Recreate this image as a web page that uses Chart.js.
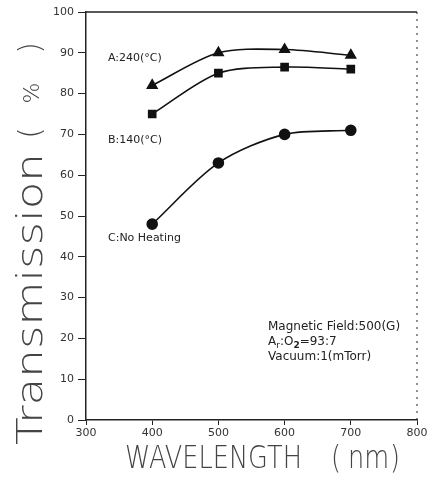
<!DOCTYPE html>
<html>
<head>
<meta charset="utf-8">
<script src="https://cdn.jsdelivr.net/npm/chart.js@4.4.1/dist/chart.umd.min.js"></script>
<style>
  html, body { margin: 0; padding: 0; background: #fff; }
  canvas { display: block; }
</style>
</head>
<body>
<canvas id="transChart" width="439" height="479"></canvas>
<script>
// wavelength (nm)
var wavelengths = [400, 500, 600, 700];
// transmission (%)
var heatA = [82, 90, 90.8, 89.4];   // A: 240 C
var heatB = [75, 85, 86.5, 86];     // B: 140 C
var noHeat = [48, 63, 70, 71];      // C: no heating

var xTicks = [300, 400, 500, 600, 700, 800];
var yTicks = [0, 10, 20, 30, 40, 50, 60, 70, 80, 90, 100];

function pts(vals) {
    return wavelengths.map(function (w, i) { return {x: w, y: vals[i]}; });
}

function series(label, vals, shape) {
    return {
        label: label,
        data: pts(vals),
        borderColor: "#111",
        backgroundColor: "#111",
        borderWidth: 1.6,
        pointStyle: shape,
        pointRadius: shape == 'triangle' ? 5.5 : 5,
        pointHoverRadius: 5,
        tension: 0.3,
        showLine: true,
        fill: false
    };
}

// text, frame and titles drawn on top of the chart
var extras = {
    id: 'extras',
    afterDraw: function (chart) {
        var c = chart.ctx, a = chart.chartArea;
        c.save();

        // top solid line, right dotted line
        c.strokeStyle = "#222";
        c.lineWidth = 1.5;
        c.beginPath();
        c.moveTo(a.left, a.top);
        c.lineTo(a.right, a.top);
        c.stroke();
        c.setLineDash([2, 5]);
        c.lineWidth = 1;
        c.beginPath();
        c.moveTo(a.right, a.top);
        c.lineTo(a.right, a.bottom);
        c.stroke();
        c.setLineDash([]);

        c.fillStyle = "#222";
        c.textBaseline = "middle";
        c.textAlign = "left";
        c.font = "11px 'DejaVu Sans'";
        c.fillText("A:240(°C)", 108, 58);
        c.fillText("B:140(°C)", 108, 140);
        c.fillText("C:No Heating", 108, 238);

        c.font = "12px 'DejaVu Sans'";
        c.fillText("Magnetic Field:500(G)", 268, 327);
        // Ar:O2=93:7 with subscripts
        var x = 268, y = 342;
        c.fillText("A", x, y); x += c.measureText("A").width;
        c.font = "9px 'DejaVu Sans'";
        c.fillText("r", x, y + 4); x += c.measureText("r").width;
        c.font = "12px 'DejaVu Sans'";
        c.fillText(":O", x, y); x += c.measureText(":O").width;
        c.font = "bold 9px 'DejaVu Sans'";
        c.fillText("2", x, y + 4); x += c.measureText("2").width;
        c.font = "12px 'DejaVu Sans'";
        c.fillText("=93:7", x, y);
        c.fillText("Vacuum:1(mTorr)", 268, 357);

        // x title, thin and tall
        c.fillStyle = "#444";
        c.textBaseline = "alphabetic";
        c.font = "200 32px 'DejaVu Sans'";
        c.save();
        c.translate(125, 468);
        c.scale(0.8, 1);
        c.fillText("WAVELENGTH", 0, 0);
        c.restore();
        c.save();
        c.translate(331, 468);
        c.scale(0.8, 1);
        c.fillText("(", 0, 0);
        c.restore();
        c.save();
        c.translate(348, 468);
        c.scale(0.8, 1);
        c.fillText("nm", 0, 0);
        c.restore();
        c.save();
        c.translate(390, 468);
        c.scale(0.8, 1);
        c.fillText(")", 0, 0);
        c.restore();

        // y title, rotated
        c.save();
        c.translate(42, 445);
        c.rotate(-Math.PI / 2);
        c.font = "200 36px 'DejaVu Sans'";
        var w = c.measureText("Transmission").width;
        c.save();
        c.scale(292 / w, 1);
        c.fillText("Transmission", 0, 0);
        c.restore();
        c.textAlign = "center";
        c.font = "200 30px 'DejaVu Sans'";
        c.fillText("(", 445 - 133, -2);
        c.fillText(")", 445 - 48, -2);
        c.font = "200 22px 'DejaVu Sans'";
        c.fillText("%", 445 - 93, -3);
        c.restore();

        c.restore();
    }
};

var ctx = document.getElementById("transChart").getContext("2d");
new Chart(ctx, {
    type: 'scatter',
    data: {
        datasets: [
            series("A:240(°C)", heatA, 'triangle'),
            series("B:140(°C)", heatB, 'rect'),
            series("C:No Heating", noHeat, 'circle')
        ]
    },
    options: {
        responsive: false,
        animation: false,
        layout: {padding: {top: 12, right: 22, left: 0, bottom: 0}},
        plugins: {legend: {display: false}, tooltip: {enabled: false}},
        scales: {
            x: {
                type: 'linear',
                min: 300,
                max: 800,
                afterBuildTicks: function (s) { s.ticks = xTicks.map(function (v) { return {value: v}; }); },
                afterFit: function (s) { s.height = 59; },
                grid: {display: true, drawOnChartArea: false, tickLength: 5, color: "#222"},
                border: {display: true, color: "#222", width: 1.5},
                ticks: {color: "#333", font: {family: "DejaVu Sans", size: 11}, padding: 2}
            },
            y: {
                min: 0,
                max: 100,
                afterBuildTicks: function (s) { s.ticks = yTicks.map(function (v) { return {value: v}; }); },
                afterFit: function (s) { s.width = 86; },
                grid: {display: true, drawOnChartArea: false, tickLength: 8, color: "#222"},
                border: {display: true, color: "#222", width: 1.5},
                ticks: {color: "#333", font: {family: "DejaVu Sans", size: 11}, padding: 4}
            }
        }
    },
    plugins: [extras]
});
</script>
</body>
</html>
